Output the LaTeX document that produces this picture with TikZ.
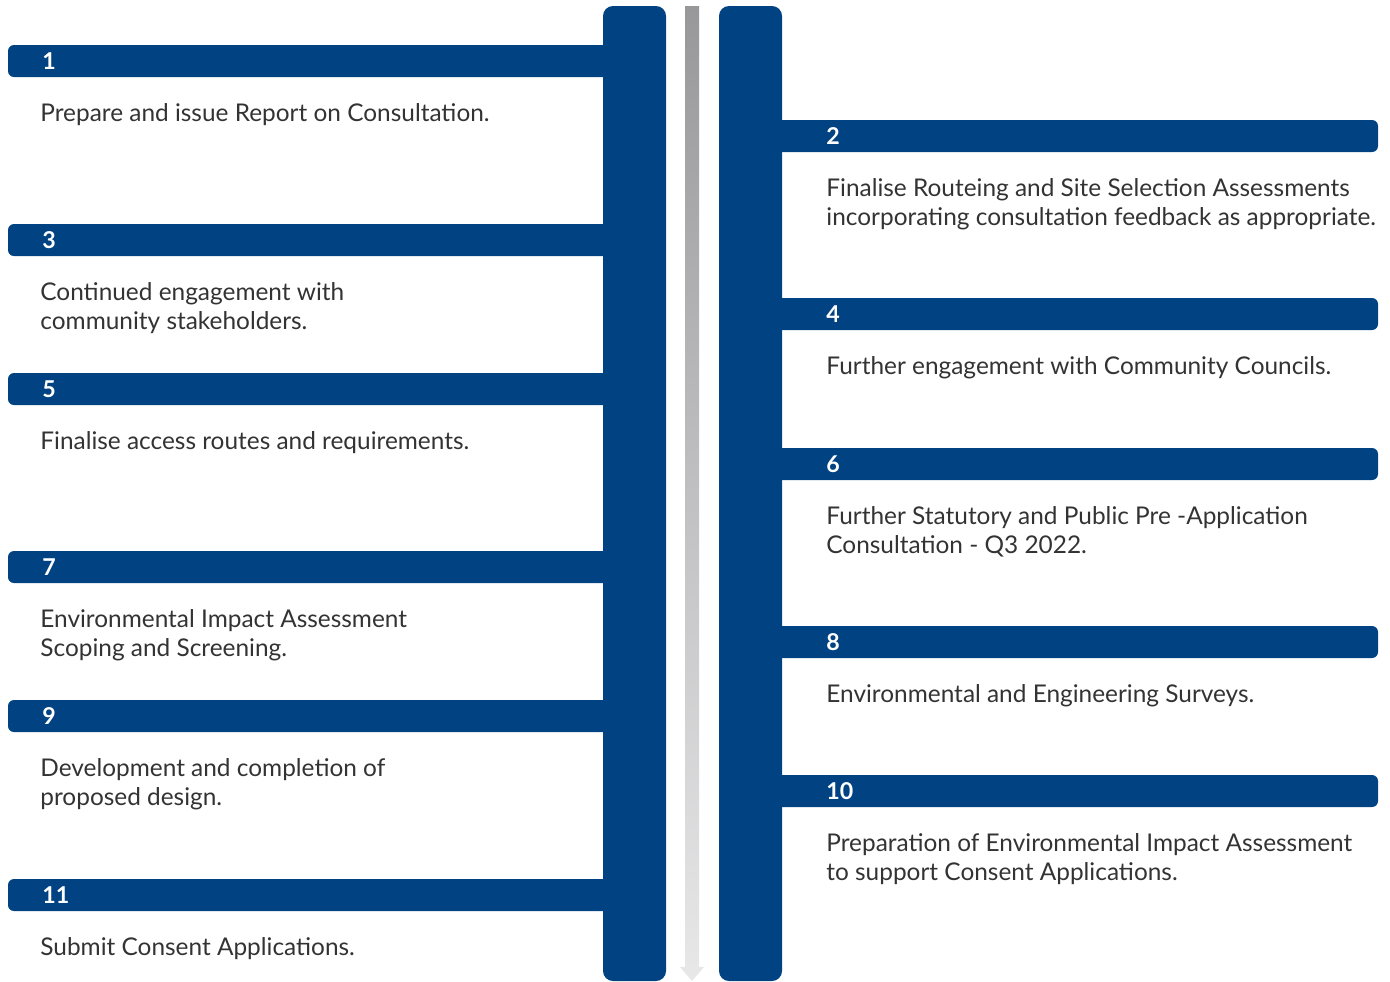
\documentclass[tikz,border=0pt]{standalone}
\usepackage{fontspec}
\setmainfont{Lato}
\definecolor{stageblue}{HTML}{004282}
\definecolor{stagetext}{HTML}{333333}
\definecolor{flowtop}{HTML}{98989B}
\definecolor{flowbot}{HTML}{E8E8E9}

\begin{document}
\begin{tikzpicture}[x=0.5pt,y=-0.5pt,font=\fontsize{12.2}{14.5}\selectfont,
  stagebar/.style={fill=stageblue,rounded corners=3pt},
  stagecol/.style={fill=stageblue,rounded corners=5pt},
  stagenum/.style={anchor=west,inner sep=0pt,text=white,font=\fontsize{11.6}{13}\selectfont\bfseries},
  stagetxt/.style={anchor=north west,inner sep=0pt,align=left,text=stagetext}]
\useasboundingbox (0,0) rectangle (1390,981);
% time arrow between the two columns
\coordinate (flowstart) at (692,6);
\coordinate (flowtip) at (692,981);
\shade[top color=flowtop,bottom color=flowbot]
  (685,6) -- (699,6) -- (699,967) -- (704,967) -- (flowtip) -- (680,967) -- (685,967) -- cycle;
% left side
\foreach \n/\y/\t in {1/45/{Prepare and issue Report on Consultation.},
    3/224/{Continued engagement with\\community stakeholders.},
    5/373/{Finalise access routes and requirements.},
    7/551/{Environmental Impact Assessment\\Scoping and Screening.},
    9/700/{Development and completion of\\proposed design.},
    11/879/{Submit Consent Applications.}}{
  \fill[stagebar] (8,\y) rectangle (620,\y+32);
  \node[stagenum] (num\n) at (42,\y+16) {\n};
  \node[stagetxt] (txt\n) at (40,\y+58) {\t};
}
% right side
\foreach \n/\y/\t in {2/120/{Finalise Routeing and Site Selection Assessments\\incorporating consultation feedback as appropriate.},
    4/298/{Further engagement with Community Councils.},
    6/448/{Further Statutory and Public Pre -Application\\Consultation - Q3 2022.},
    8/626/{Environmental and Engineering Surveys.},
    10/775/{Preparation of Environmental Impact Assessment\\to support Consent Applications.}}{
  \fill[stagebar] (770,\y) rectangle (1378,\y+32);
  \node[stagenum] (num\n) at (826,\y+16) {\n};
  \node[stagetxt] (txt\n) at (826,\y+58) {\t};
}
\fill[stagecol] (603,6) rectangle (666,981);
\fill[stagecol] (719,6) rectangle (782,981);
\end{tikzpicture}
\end{document}
